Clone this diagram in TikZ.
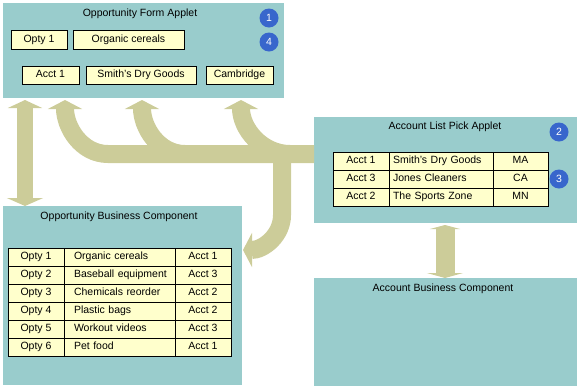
\documentclass[tikz,border=0pt]{standalone}
\usepackage{fontspec}
\setmainfont{Liberation Sans}
\usetikzlibrary{positioning,calc,arrows.meta}
\definecolor{panelteal}{RGB}{153,204,204}
\definecolor{flowkhaki}{RGB}{204,204,153}
\definecolor{cellyellow}{RGB}{255,255,204}
\definecolor{badgeblue}{RGB}{56,102,204}
\tikzset{
	panel/.style = {rectangle, fill=panelteal, anchor=north west, inner sep=0pt, outer sep=0pt}, % the four grey-blue blocks
	title/.style = {inner sep=1pt},
	field/.style = {rectangle, draw, line width=0.8pt, fill=cellyellow, inner sep=0pt, outer sep=0pt, text height=7.5pt, text depth=2.5pt},
	cell/.style = {field, anchor=north west, minimum height=18pt}, % one table cell
	textcell/.style = {cell, text width=#1, align=left}, % left aligned middle column
	badge/.style = {circle, fill=badgeblue, text=white, minimum size=19pt, inner sep=0pt},
	flow/.style = {draw=flowkhaki, line width=18pt, -{Triangle[width=34pt,length=9pt]}},
	link/.style = {draw=flowkhaki, line width=16pt}
}

\begin{document}
\begin{tikzpicture}[x=1pt, y=-1pt, font=\fontsize{10.5}{12}\selectfont]
	\useasboundingbox (0,0) rectangle (580,389);
	% panels
	\node[panel, minimum width=281pt, minimum height=95pt] (formapplet) at (3,3) {};
	\node[panel, minimum width=263pt, minimum height=106pt] (picker) at (314,117) {};
	\node[panel, minimum width=239pt, minimum height=179pt] (oppbc) at (3,206) {};
	\node[panel, minimum width=263pt, minimum height=108pt] (acctbc) at (314,278) {};
	\node[title] (formtitle) at (140,14) {Opportunity Form Applet};
	\node[title] (pickertitle) at (445,127) {Account List Pick Applet};
	\node[title] (oppbctitle) at (119,217) {Opportunity Business Component};
	\node[title] (acctbctitle) at (443,289) {Account Business Component};
	% badges
	\node[badge] (badge1) at (269,18) {1};
	\node[badge] (badge4) at (269,42) {4};
	\node[badge] (badge2) at (559,132) {2};
	\node[badge] (badge3) at (559,179) {3};
	% form applet fields
	\node[field, anchor=west, minimum width=56pt, minimum height=19pt] (opty) at (11,39.5) {Opty 1};
	\node[field, minimum width=111pt, minimum height=19pt, right=6pt of opty] (organic) {Organic cereals};
	\node[field, anchor=west, minimum width=57pt, minimum height=18pt] (acct) at (22,75) {Acct 1};
	\node[field, minimum width=110pt, minimum height=18pt, right=7pt of acct] (smith) {Smith's Dry Goods};
	\node[field, minimum width=67pt, minimum height=18pt, right=10pt of smith] (cambridge) {Cambridge};
	% pick applet table
	\foreach \r/\acc/\cname/\st in {1/Acct 1/Smith's Dry Goods/MA, 2/Acct 3/Jones Cleaners/CA, 3/Acct 2/The Sports Zone/MN} {
		\node[cell, minimum width=56pt] (pick-\r-a) at (333,134+18*\r) {\acc};
		\node[textcell=96pt, minimum width=104pt, anchor=west, right=0pt of pick-\r-a] (pick-\r-b) {\mbox{\cname}};
		\node[cell, minimum width=55pt, anchor=west, right=0pt of pick-\r-b] (pick-\r-c) {\st};
	}
	% business component table
	\foreach \r/\opp/\descr/\acc in {1/Opty 1/Organic cereals/Acct 1, 2/Opty 2/Baseball equipment/Acct 3,
		3/Opty 3/Chemicals reorder/Acct 2, 4/Opty 4/Plastic bags/Acct 2, 5/Opty 5/Workout videos/Acct 3, 6/Opty 6/Pet food/Acct 1} {
		\node[cell, minimum width=56pt] (opp-\r-a) at (8,230+18*\r) {\opp};
		\node[textcell=91pt, minimum width=111pt, anchor=west, right=0pt of opp-\r-a] (opp-\r-b) {\mbox{\descr}};
		\node[cell, minimum width=56pt, anchor=west, right=0pt of opp-\r-b] (opp-\r-c) {\acc};
	}
	% end points of the flows
	\coordinate (busin) at ($(picker.north west)+(0,37)$);
	\coordinate (tip1) at ($(formapplet.south west)+(62,2)$);
	\coordinate (tip2) at ($(formapplet.south west)+(139,2)$);
	\coordinate (tip3) at ($(formapplet.south west)+(238,2)$);
	\coordinate (tipdown) at ($(oppbc.north east)+(1,44)$);
	\coordinate (linkA) at ($(formapplet.south west)+(22,2)$);
	\coordinate (linkB) at ($(oppbc.north west)+(22,0)$);
	\coordinate (linkC) at ($(picker.south west)+(131,2)$);
	\coordinate (linkD) at ($(acctbc.north west)+(131,0)$);
	% flows
	\draw[flow] (busin) -- (108,154) to[out=180,in=-90] (tip1);
	\draw[flow] (185,154) to[out=180,in=-90] (tip2);
	\draw[flow] (290,154) to[out=180,in=-90] (tip3);
	\draw[flow] (282,145) -- (282,215) to[out=-90,in=0] (tipdown);
	\draw[link, {Triangle[width=34pt,length=8pt]}-{Triangle[width=36pt,length=8pt]}] (linkA) -- (linkB);
	\draw[link, line width=19pt, {Triangle[width=30pt,length=4pt]}-{Triangle[width=36pt,length=5pt]}] (linkC) -- (linkD);
\end{tikzpicture}
\end{document}
